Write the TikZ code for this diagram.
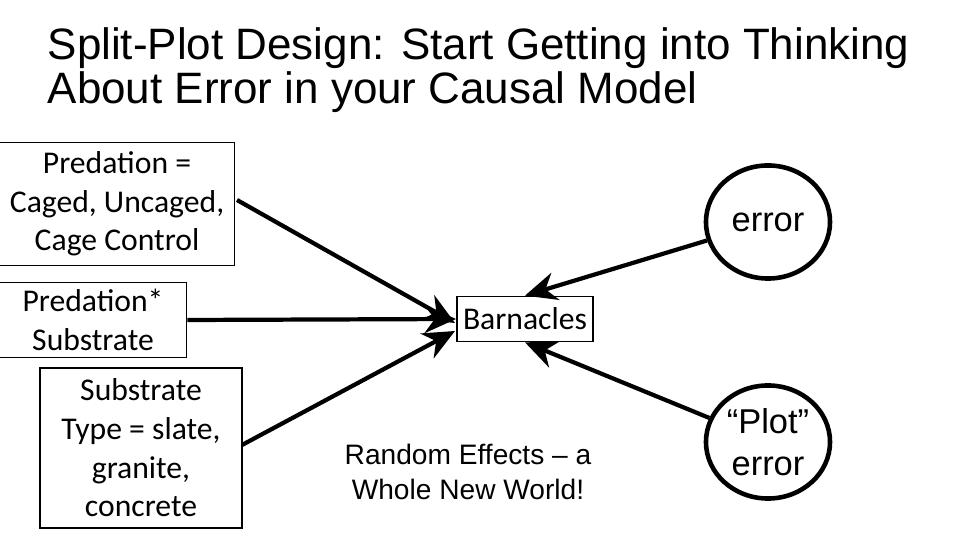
\documentclass[tikz,border=0pt]{standalone}
\usepackage{fontspec}
\setmainfont{Liberation Sans}
\newfontfamily\calibrifont{Carlito}
\usetikzlibrary{shapes.geometric,arrows.meta}
\begin{document}
\begin{tikzpicture}[x=0.01cm,y=-0.01cm,
  box/.style={draw,line width=0.5pt,inner sep=0pt,align=center,font=\calibrifont\fontsize{9pt}{11pt}\selectfont},
  oval/.style={draw,ellipse,line width=1.3pt,minimum width=1.24cm,minimum height=1.13cm,inner sep=0pt,align=center,font=\fontsize{9.8pt}{12pt}\selectfont},
  arr/.style={line width=1.2pt,-{Stealth[length=9pt,width=8pt]}}]
\useasboundingbox (0,0) rectangle (960,540);
\node[anchor=north west,align=left,inner sep=0pt,font=\fontsize{12.5pt}{12.5pt}\selectfont] (title) at (47,27)
  {Split-Plot Design: Start Getting into Thinking\\About Error in your Causal Model};
\node[box,minimum width=2.35cm,minimum height=1.23cm] (pred) at (117,204) {Predation =\\Caged, Uncaged,\\Cage Control};
\node[box,minimum width=1.87cm,minimum height=0.75cm] (inter) at (93,320) {Predation*\\Substrate};
\node[box,minimum width=2.02cm,minimum height=1.6cm] (sub) at (141,448) {Substrate\\Type = slate,\\granite,\\concrete};
\node[box,minimum width=1.36cm,minimum height=0.45cm] (barn) at (525,319) {Barnacles};
\node[oval] (err) at (768,222) {error};
\node[oval] (plot) at (768,442) {“Plot”\\error};
\node[align=center,font=\fontsize{8pt}{10pt}\selectfont] (rand) at (468,472) {Random Effects – a\\Whole New World!};
\coordinate (b1) at (455,323);
\coordinate (b3) at (455,331);
\coordinate (s1) at (237,200);
\coordinate (s3) at (242,445);
\draw[arr] (s1) -- (b1);
\draw[arr] (inter.east) -- (barn.west);
\draw[arr] (s3) -- (b3);
\draw[arr] (err) -- (barn.north);
\draw[arr] (plot) -- (barn.south);
\end{tikzpicture}
\end{document}
